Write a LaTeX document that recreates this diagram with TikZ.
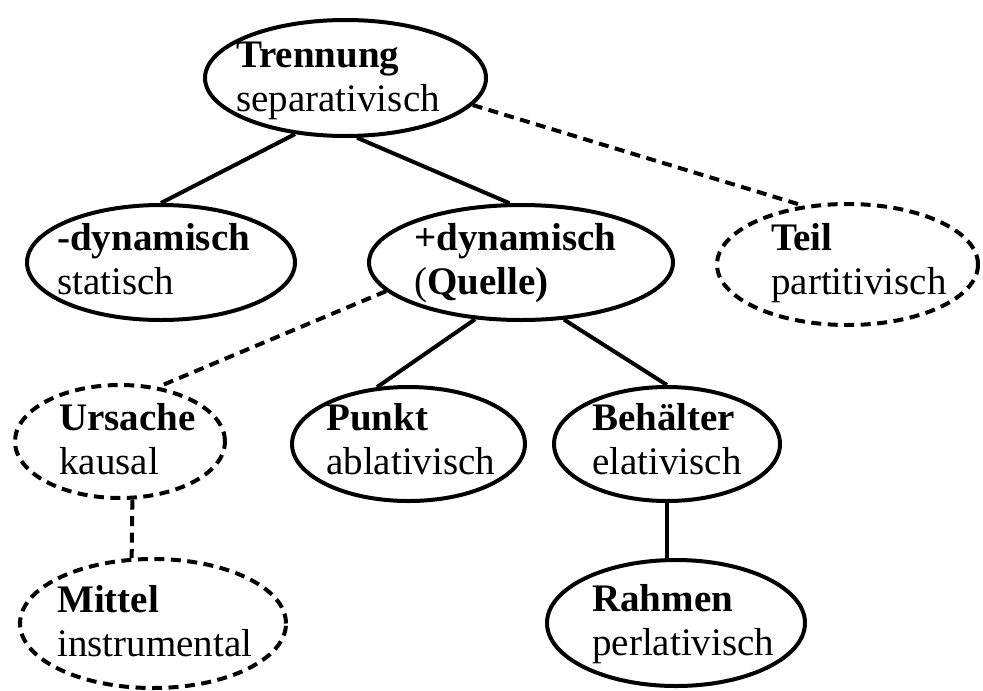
\documentclass[tikz,border=0pt]{standalone}
\usepackage{fontspec}
\setmainfont{Liberation Serif}
\usetikzlibrary{shapes.geometric}
\begin{document}
\begin{tikzpicture}[x=1pt,y=-1pt,
  oval/.style={ellipse, draw, line width=4pt, inner sep=0pt},
  dashedoval/.style={oval, dash pattern=on 10pt off 6.5pt},
  link/.style={line width=4pt},
  dlink/.style={line width=4pt, dash pattern=on 10pt off 6.5pt},
  lbl/.style={anchor=base west, inner sep=0pt, font=\fontsize{39}{44}\selectfont}]
\useasboundingbox (0,0) rectangle (983,691);

% ellipses
\node[oval, minimum width=281pt, minimum height=116pt] (tren) at (345.5,78) {};
\node[oval, minimum width=268pt, minimum height=115pt] (neg) at (161,262.5) {};
\node[oval, minimum width=304pt, minimum height=115pt] (pos) at (521,262.5) {};
\node[dashedoval, minimum width=261pt, minimum height=121pt] (teil) at (847.5,264.5) {};
\node[dashedoval, minimum width=210pt, minimum height=113pt] (urs) at (120,441.5) {};
\node[oval, minimum width=233pt, minimum height=114pt] (pkt) at (408.5,444) {};
\node[oval, minimum width=226pt, minimum height=114pt] (beh) at (667,444) {};
\node[dashedoval, minimum width=266pt, minimum height=129pt] (mit) at (153,623.5) {};
\node[oval, minimum width=258pt, minimum height=126pt] (rah) at (676,623) {};

% labels
\node[lbl] (tren-t) at (236,67) {\begin{tabular}[t]{@{}l@{}}\textbf{Trennung}\\ separativisch\end{tabular}};
\node[lbl] (neg-t) at (57,250) {\begin{tabular}[t]{@{}l@{}}\textbf{-dynamisch}\\ statisch\end{tabular}};
\node[lbl] (pos-t) at (414,250) {\begin{tabular}[t]{@{}l@{}}\textbf{+dynamisch}\\ (\textbf{Quelle)}\end{tabular}};
\node[lbl] (teil-t) at (771,250) {\begin{tabular}[t]{@{}l@{}}\textbf{Teil}\\ partitivisch\end{tabular}};
\node[lbl] (urs-t) at (59,430) {\begin{tabular}[t]{@{}l@{}}\textbf{Ursache}\\ kausal\end{tabular}};
\node[lbl] (pkt-t) at (326,430) {\begin{tabular}[t]{@{}l@{}}\textbf{Punkt}\\ ablativisch\end{tabular}};
\node[lbl] (beh-t) at (592,430) {\begin{tabular}[t]{@{}l@{}}\textbf{Behälter}\\ elativisch\end{tabular}};
\node[lbl] (mit-t) at (57,612) {\begin{tabular}[t]{@{}l@{}}\textbf{Mittel}\\ instrumental\end{tabular}};
\node[lbl] (rah-t) at (592,611) {\begin{tabular}[t]{@{}l@{}}\textbf{Rahmen}\\ perlativisch\end{tabular}};

% connectors
\draw[link] (tren.228) -- (neg.north);
\draw[link] (tren.281) -- (pos.101);
\draw[dlink] (tren.348) -- (teil.127);
\draw[dlink] (pos.192) -- (urs.55);
\draw[link] (pos.231) -- (pkt.119);
\draw[link] (pos.307) -- (beh.north);
\draw[link] (beh.south) -- (beh.south |- rah.north);
\draw[dlink] (urs.282) -- (mit.108);
\end{tikzpicture}
\end{document}
